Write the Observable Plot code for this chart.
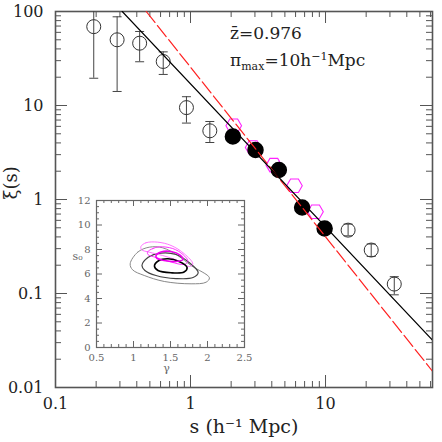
<!DOCTYPE html>
<html><head><meta charset="utf-8">
<script src="https://cdn.jsdelivr.net/npm/d3@7"></script>
<script src="https://cdn.jsdelivr.net/npm/@observablehq/plot@0.6"></script>
<style>
html,body{margin:0;padding:0;background:#fff;overflow:hidden}
#wrap{position:relative;width:442px;height:442px}
#wrap svg{position:absolute}
</style></head><body><div id="wrap"></div>
<script>
// ---------- main panel data ----------
const openS  = [0.192, 0.286, 0.42, 0.628, 0.933, 1.39, 14.7, 21.8, 32.3];
const openXi = [69, 50, 46, 29.4, 9.5, 5.38, 0.472, 0.29, 0.126];
const openLo = [19.5, 14.1, 29.2, 21.4, 6.5, 4.04, 0.411, 0.248, 0.0968];
const openHi = [140, 87.8, 61.3, 37.2, 12.4, 6.76, 0.547, 0.336, 0.151];
const fillS  = [2.06, 3.03, 4.51, 6.71, 9.85];
const fillXi = [4.68, 3.36, 2.06, 0.822, 0.491];
const hexS   = [2.09, 2.91, 4.14, 5.89, 8.43];
const hexXi  = [6.08, 3.57, 2.32, 1.40, 0.74];
const fitBlackS = [0.312, 62], fitBlackXi = [100, 0.0319];
const fitRedS   = [0.470, 62], fitRedXi   = [100, 0.0149];

const xMajor = [0.1, 1, 10];
const xLabels = ["0.1", "1", "10"];
const xMinor = [0.2,0.3,0.4,0.5,0.6,0.7,0.8,0.9,2,3,4,5,6,7,8,9,20,30,40,50,60];
const yMajor = [0.01, 0.1, 1, 10, 100];
const yLabels = ["0.01", "0.1", "1", "10", "100"];
const yMinor = [0.02,0.03,0.04,0.05,0.06,0.07,0.08,0.09,0.2,0.3,0.4,0.5,0.6,0.7,0.8,0.9,2,3,4,5,6,7,8,9,20,30,40,50,60,70,80,90];

// ---------- inset data (gamma, s0 contours) ----------
const outerBlackG = [0.955,1.056,1.213,1.394,1.598,1.778,2.026,1.981,1.778,1.416,1.145,0.988];
const outerBlackS = [6.83,7.78,8.19,8.14,7.51,6.69,5.69,5.33,5.20,5.39,5.88,6.34];
const midBlackG = [1.114,1.195,1.371,1.575,1.751,1.874,1.805,1.575,1.304,1.154];
const midBlackS = [6.69,7.35,7.71,7.59,6.94,6.12,5.71,5.63,5.88,6.29];
const innerBlackG = [1.283,1.344,1.466,1.615,1.724,1.683,1.507,1.331];
const innerBlackS = [6.65,7.10,7.24,7.02,6.53,6.16,6.10,6.29];
const outerMagG = [1.100,1.168,1.327,1.507,1.687,1.801,1.755,1.598,1.394,1.213,1.110];
const outerMagS = [8.24,8.55,8.60,8.33,7.65,6.83,6.61,7.10,7.51,7.78,7.98];
const midMagG = [1.191,1.263,1.348,1.530,1.669,1.737,1.683,1.507,1.304,1.195];
const midMagS = [7.81,8.08,8.22,8.08,7.59,7.02,6.78,6.98,7.35,7.59];
const innerMagG = [1.304,1.372,1.507,1.629,1.669,1.575,1.412,1.317];
const innerMagS = [7.51,7.80,7.84,7.55,7.18,7.02,7.10,7.27];

const gMajor = [0.5, 1, 1.5, 2, 2.5];
const gLabels = ["0.5", "1", "1.5", "2", "2.5"];
const gMinor = [0.6,0.7,0.8,0.9,1.1,1.2,1.3,1.4,1.6,1.7,1.8,1.9,2.1,2.2,2.3,2.4];
const sMajor = [0, 2, 4, 6, 8, 10, 12];
const sLabels = ["0", "2", "4", "6", "8", "10", "12"];
const sMinor = [0.5,1,1.5,2.5,3,3.5,4.5,5,5.5,6.5,7,7.5,8.5,9,9.5,10.5,11,11.5];

const zip = (xs, ys) => xs.map((x, i) => ({x, y: ys[i]}));
const openData = openS.map((s, i) => ({s, xi: openXi[i], lo: openLo[i], hi: openHi[i]}));
const serif = "DejaVu Serif";
const capSymbol = {draw(ctx, size) { const h = Math.sqrt(size / Math.PI); ctx.moveTo(-h, 0); ctx.lineTo(h, 0); }};
const flatHex = {draw(ctx, size) {
  const R = Math.sqrt(size / Math.PI), h = R * Math.sqrt(3) / 2;
  ctx.moveTo(R, 0); ctx.lineTo(R / 2, h); ctx.lineTo(-R / 2, h);
  ctx.lineTo(-R, 0); ctx.lineTo(-R / 2, -h); ctx.lineTo(R / 2, -h); ctx.closePath();
}};

const W = 442, H = 442, mL = 55, mT = 11, mR = 10, mB = 55;
const fw = W - mL - mR, fh = H - mT - mB;
const ax = "#555";

const main = Plot.plot({
  width: W, height: H, marginLeft: mL, marginTop: mT, marginRight: mR, marginBottom: mB,
  x: {type: "log", domain: [0.1, 62], axis: null},
  y: {type: "log", domain: [0.01, 100], axis: null},
  marks: [
    Plot.ruleX(xMajor, {x: d => d, insetTop: fh - 12, stroke: ax}),
    Plot.ruleX(xMinor, {x: d => d, insetTop: fh - 6, stroke: ax}),
    Plot.ruleX(xMajor, {x: d => d, insetBottom: fh - 12, stroke: ax}),
    Plot.ruleX(xMinor, {x: d => d, insetBottom: fh - 6, stroke: ax}),
    Plot.ruleY(yMajor, {y: d => d, insetRight: fw - 12, stroke: ax}),
    Plot.ruleY(yMinor, {y: d => d, insetRight: fw - 6, stroke: ax}),
    Plot.ruleY(yMajor, {y: d => d, insetLeft: fw - 12, stroke: ax}),
    Plot.ruleY(yMinor, {y: d => d, insetLeft: fw - 6, stroke: ax}),
    Plot.frame({stroke: ax, strokeWidth: 1.6}),
    Plot.text(xMajor, {x: d => d, text: (d, i) => xLabels[i], frameAnchor: "bottom", lineAnchor: "top", dy: 10, fontSize: 16, fontFamily: serif, fill: "#222"}),
    Plot.text(yMajor, {y: d => d, text: (d, i) => yLabels[i], frameAnchor: "left", textAnchor: "end", dx: -12, fontSize: 16, fontFamily: serif, fill: "#222"}),
    Plot.text(["s (h⁻¹ Mpc)"], {frameAnchor: "bottom", dy: 45, fontSize: 19, fontFamily: serif, fill: "#222"}),
    Plot.text(["ξ(s)"], {frameAnchor: "left", dx: -44, rotate: -90, fontSize: 18, fontFamily: serif, fill: "#222"}),
    Plot.ruleX(openData, {x: "s", y1: "lo", y2: "hi", stroke: "#444", strokeWidth: 1, clip: true}),
    Plot.dot(openData, {x: "s", y: "lo", symbol: capSymbol, r: 4.5, stroke: "#444", fill: "none", strokeWidth: 1, clip: true}),
    Plot.dot(openData, {x: "s", y: "hi", symbol: capSymbol, r: 4.5, stroke: "#444", fill: "none", strokeWidth: 1, clip: true}),
    Plot.dot(openData, {x: "s", y: "xi", r: 7, stroke: "#333", fill: "none", strokeWidth: 1}),
    Plot.dot(zip(hexS, hexXi), {x: "x", y: "y", symbol: flatHex, r: 7.8, stroke: "#ff22ff", fill: "none", strokeWidth: 1.1}),
    Plot.dot(zip(fillS, fillXi), {x: "x", y: "y", r: 7.5, fill: "black", stroke: "black"}),
    Plot.line(zip(fitRedS, fitRedXi), {x: "x", y: "y", stroke: "#ff2020", strokeWidth: 1.2, strokeDasharray: "14,4", clip: true}),
    Plot.line(zip(fitBlackS, fitBlackXi), {x: "x", y: "y", stroke: "black", strokeWidth: 1.1, clip: true})
  ]
});
main.style.left = "0px"; main.style.top = "0px";
main.style.background = "white";

const ms = d3.select(main);
ms.append("text").attr("x", 230).attr("y", 39).attr("text-anchor", "start").attr("font-family", serif).attr("font-size", 17).attr("fill", "#222").text("z\u0304=0.976");
const t2 = ms.append("text").attr("x", 230).attr("y", 66).attr("text-anchor", "start").attr("font-family", serif).attr("font-size", 17).attr("fill", "#222");
t2.append("tspan").text("π");
t2.append("tspan").attr("font-size", 11).attr("dy", 4).text("max");
t2.append("tspan").attr("dy", -4).text("=10h");
t2.append("tspan").attr("font-size", 11).attr("dy", -6).text("−1");
t2.append("tspan").attr("dy", 6).text("Mpc");

const IW = 190, IH = 190, iL = 30, iT = 10, iR = 12, iB = 33;
const ifw = IW - iL - iR, ifh = IH - iT - iB;
const ic = "#666";
const inset = Plot.plot({
  width: IW, height: IH, marginLeft: iL, marginTop: iT, marginRight: iR, marginBottom: iB,
  style: {background: "transparent"},
  x: {domain: [0.5, 2.5], axis: null},
  y: {domain: [0, 12], axis: null},
  marks: [
    Plot.ruleX(gMajor, {x: d => d, insetTop: ifh - 6, stroke: ic}),
    Plot.ruleX(gMinor, {x: d => d, insetTop: ifh - 3, stroke: ic}),
    Plot.ruleX(gMajor, {x: d => d, insetBottom: ifh - 6, stroke: ic}),
    Plot.ruleX(gMinor, {x: d => d, insetBottom: ifh - 3, stroke: ic}),
    Plot.ruleY(sMajor, {y: d => d, insetRight: ifw - 6, stroke: ic}),
    Plot.ruleY(sMinor, {y: d => d, insetRight: ifw - 3, stroke: ic}),
    Plot.ruleY(sMajor, {y: d => d, insetLeft: ifw - 6, stroke: ic}),
    Plot.ruleY(sMinor, {y: d => d, insetLeft: ifw - 3, stroke: ic}),
    Plot.frame({stroke: ic, strokeWidth: 1.2}),
    Plot.text(gMajor, {x: d => d, text: (d, i) => gLabels[i], frameAnchor: "bottom", lineAnchor: "top", dy: 6, fontSize: 10, fontFamily: serif, fill: ic}),
    Plot.text(sMajor, {y: d => d, text: (d, i) => sLabels[i], frameAnchor: "left", textAnchor: "end", dx: -6, fontSize: 10, fontFamily: serif, fill: ic}),
    Plot.text(["γ"], {frameAnchor: "bottom", dy: 24, dx: -4, fontSize: 11, fontFamily: serif, fill: ic}),
    Plot.text(["s₀"], {y: () => 7.4, frameAnchor: "left", dx: -24, fontSize: 11, fontFamily: serif, fill: ic}),
    Plot.line(zip(outerBlackG, outerBlackS), {x: "x", y: "y", curve: "catmull-rom-closed", stroke: "#888", strokeWidth: 1}),
    Plot.line(zip(midBlackG, midBlackS), {x: "x", y: "y", curve: "catmull-rom-closed", stroke: "#444", strokeWidth: 1.2}),
    Plot.line(zip(outerMagG, outerMagS), {x: "x", y: "y", curve: "catmull-rom-closed", stroke: "#ff66ff", strokeWidth: 0.9}),
    Plot.line(zip(midMagG, midMagS), {x: "x", y: "y", curve: "catmull-rom-closed", stroke: "#ff33ff", strokeWidth: 1}),
    Plot.line(zip(innerBlackG, innerBlackS), {x: "x", y: "y", curve: "catmull-rom-closed", stroke: "#000", strokeWidth: 1.6}),
    Plot.line(zip(innerMagG, innerMagS), {x: "x", y: "y", curve: "catmull-rom-closed", stroke: "#ee00ee", strokeWidth: 1.6})
  ]
});
inset.style.left = "66px"; inset.style.top = "190px";
const wrap = document.getElementById("wrap");
wrap.appendChild(main);
wrap.appendChild(inset);
</script></body></html>
